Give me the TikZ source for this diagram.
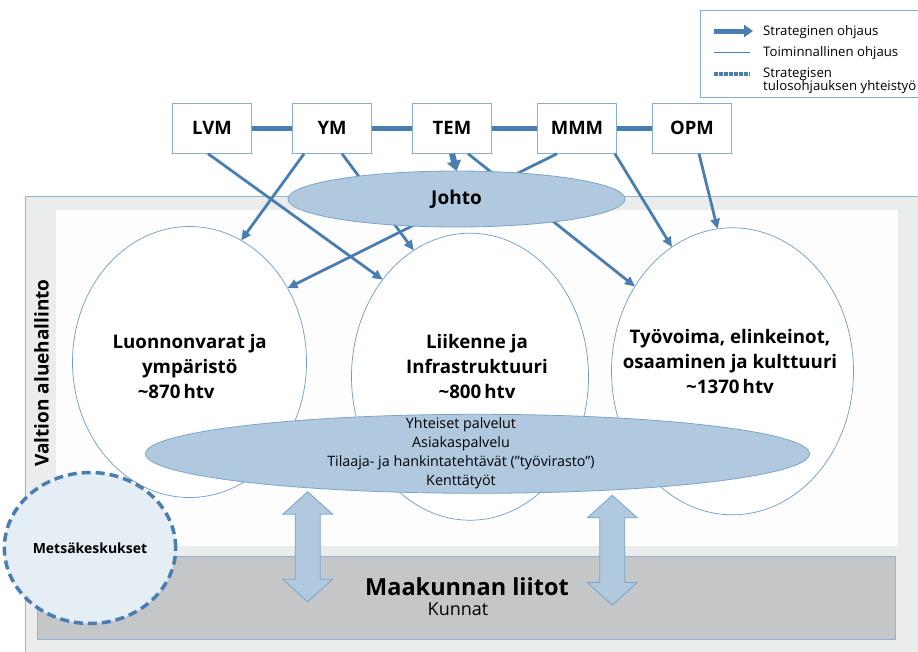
\documentclass[tikz,border=0pt]{standalone}
\usepackage{fontspec}
\setmainfont{Open Sans}
\usetikzlibrary{shapes.geometric,arrows.meta}

\definecolor{ohjaus}{HTML}{4A7EB0}
\definecolor{laatikko}{HTML}{86AED4}
\definecolor{johtovari}{HTML}{B1C9DF}
\definecolor{johtoviiva}{HTML}{7BA3CB}
\definecolor{kehys}{HTML}{6E9BC7}
\definecolor{harmaa}{HTML}{EBEDEC}
\definecolor{kehysviiva}{HTML}{94B4D6}
\definecolor{maakunta}{HTML}{C5C6C8}
\definecolor{valkoinen}{HTML}{FDFDFD}
\definecolor{metsa}{HTML}{E5EDF5}

\tikzset{
	ministerio/.style={draw=laatikko, fill=white, line width=0.8pt, minimum width=79pt, minimum height=50pt, inner sep=0pt, font=\fontsize{18.5}{22}\selectfont\bfseries},
	toimiala/.style={ellipse, draw=kehys, fill=white, line width=0.7pt, inner sep=0pt, outer sep=0pt},
	toimialateksti/.style={align=center, font=\fontsize{18.7}{25}\selectfont\bfseries},
	strateginen/.style={draw=ohjaus, line width=2.8pt, -{Triangle[length=10pt,width=9pt]}},
	yhteistyo/.style={draw=ohjaus, line width=5pt},
	yhteinen/.style={ellipse, fill=johtovari, draw=johtoviiva, line width=0.8pt, inner sep=0pt, outer sep=0pt},
	nuolilaatta/.style={fill=johtovari, draw=johtoviiva, line width=0.8pt, line join=miter},
	selite/.style={anchor=base west, inner sep=0pt, font=\fontsize{13.2}{16}\selectfont}
}

\begin{document}
\begin{tikzpicture}[x=1pt, y=-1pt]
	\useasboundingbox (0, 0) rectangle (918, 651);
	\clip (0, 0) rectangle (918, 651);

	\draw[fill=harmaa, draw=kehysviiva, line width=0.8pt] (25, 196) rectangle (940, 670);
	\fill[valkoinen] (56, 210) rectangle (898, 546);
	\draw[fill=maakunta, draw=kehysviiva, line width=0.8pt] (37, 556) rectangle (895, 639);

	\node[toimiala, minimum width=234pt, minimum height=271pt] at (189.5, 362) (luon) {};
	\node[toimiala, minimum width=237pt, minimum height=287pt] at (470, 376.7) (liik) {};
	\node[toimiala, minimum width=242pt, minimum height=287pt] at (732.5, 371.3) (tyo) {};

	\node[ministerio] at (212, 128.3) (lvm) {LVM};
	\node[ministerio] at (332, 128.3) (ym) {YM};
	\node[ministerio] at (452, 128.3) (tem) {TEM};
	\node[ministerio] at (577, 128.3) (mmm) {MMM};
	\node[ministerio] at (692, 128.3) (opm) {OPM};

	\foreach \a/\b in {lvm/ym, ym/tem, tem/mmm, mmm/opm}
		\draw[yhteistyo] (\a) -- (\b);

	\draw[strateginen] ([xshift=-4pt]lvm.south) -- (liik.132);
	\draw[strateginen] ([xshift=12pt]ym.south west) -- (luon.67);
	\draw[strateginen] ([xshift=10pt]ym.south) -- (liik.114);
	\draw[strateginen] ([xshift=16pt]tem.south) -- (tyo.139);
	\draw[strateginen] ([xshift=-20pt]mmm.south) -- (luon.37);
	\draw[strateginen] ([xshift=-2pt]mmm.south east) -- (tyo.116);
	\draw[strateginen] ([xshift=7pt]opm.south) -- (tyo.96);

	\node[yhteinen, minimum width=337pt, minimum height=56pt, font=\fontsize{19}{22}\selectfont\bfseries] at (456.5, 199) (johto) {Johto};
	\draw[draw=ohjaus, line width=6pt, -{Triangle[length=10pt,width=14pt]}] (tem.south) -- (johto.north);

	\node[yhteinen, minimum width=664pt, minimum height=79pt] at (477.5, 453.8) (palv) {};
	\node[align=center, font=\fontsize{14.3}{19}\selectfont] at (461, 453.5) (palvtxt) {Yhteiset palvelut\\Asiakaspalvelu\\Tilaaja- ja hankintatehtävät (”työvirasto”)\\Kenttätyöt};

	\foreach \cx/\ty/\by in {307.7/491.7/601.7, 612.3/495.3/605}
		\draw[nuolilaatta] (\cx, \ty) -- ++(25, 22.5) -- ++(-12.5, 0) -- (\cx+12.5, \by-22.5) -- ++(12.5, 0) -- (\cx, \by) -- ++(-25, -22.5) -- ++(12.5, 0) -- (\cx-12.5, \ty+22.5) -- ++(-12.5, 0) -- cycle;

	\node[ellipse, fill=metsa, draw=ohjaus, line width=3.5pt, dash pattern=on 9pt off 5pt, minimum width=162pt, minimum height=151pt, font=\fontsize{14}{18}\selectfont\bfseries] at (90, 548) (metsa) {Metsäkeskukset};

	\node[toimialateksti] at (189.7, 366.5) (luontxt) {Luonnonvarat ja\\ympäristö\hspace*{23pt}\\\textasciitilde870\,htv\hspace*{27pt}};
	\node[toimialateksti] at (477, 366.7) (liiktxt) {Liikenne ja\\Infrastruktuuri\\\textasciitilde800\,htv};
	\node[toimialateksti] at (730, 361.7) (tyotxt) {Työvoima, elinkeinot,\\osaaminen ja kulttuuri\\\textasciitilde1370\,htv};

	\node[rotate=90, font=\fontsize{19}{22}\selectfont\bfseries] at (41.5, 373) (valtio) {Valtion aluehallinto};
	\node[font=\fontsize{23.5}{28}\selectfont\bfseries] at (467, 586.7) (maak) {Maakunnan liitot};
	\node[font=\fontsize{18}{22}\selectfont] at (458, 609.3) (kunnat) {Kunnat};

	\draw[draw=laatikko, fill=white, line width=0.8pt] (700, 10) rectangle (940, 97);
	\node[selite] at (763, 35.7) (sel1) {Strateginen ohjaus};
	\node[selite] at (763, 56) (sel2) {Toiminnallinen ohjaus};
	\node[selite] at (763, 77.3) (sel3) {Strategisen};
	\node[selite] at (763, 90) (sel4) {tulosohjauksen yhteistyö};
	\draw[draw=ohjaus, line width=5pt, -{Triangle[length=9pt,width=12pt]}] ([xshift=-49pt, yshift=4.7pt]sel1.base west) -- ([xshift=-10pt, yshift=4.7pt]sel1.base west);
	\draw[draw=ohjaus, line width=0.8pt] ([xshift=-49pt, yshift=3.5pt]sel2.base west) -- ([xshift=-13pt, yshift=3.5pt]sel2.base west);
	\draw[draw=ohjaus, line width=4pt, dash pattern=on 3.5pt off 1.5pt] ([xshift=-49pt, yshift=3pt]sel3.base west) -- ([xshift=-13pt, yshift=3pt]sel3.base west);
\end{tikzpicture}
\end{document}
